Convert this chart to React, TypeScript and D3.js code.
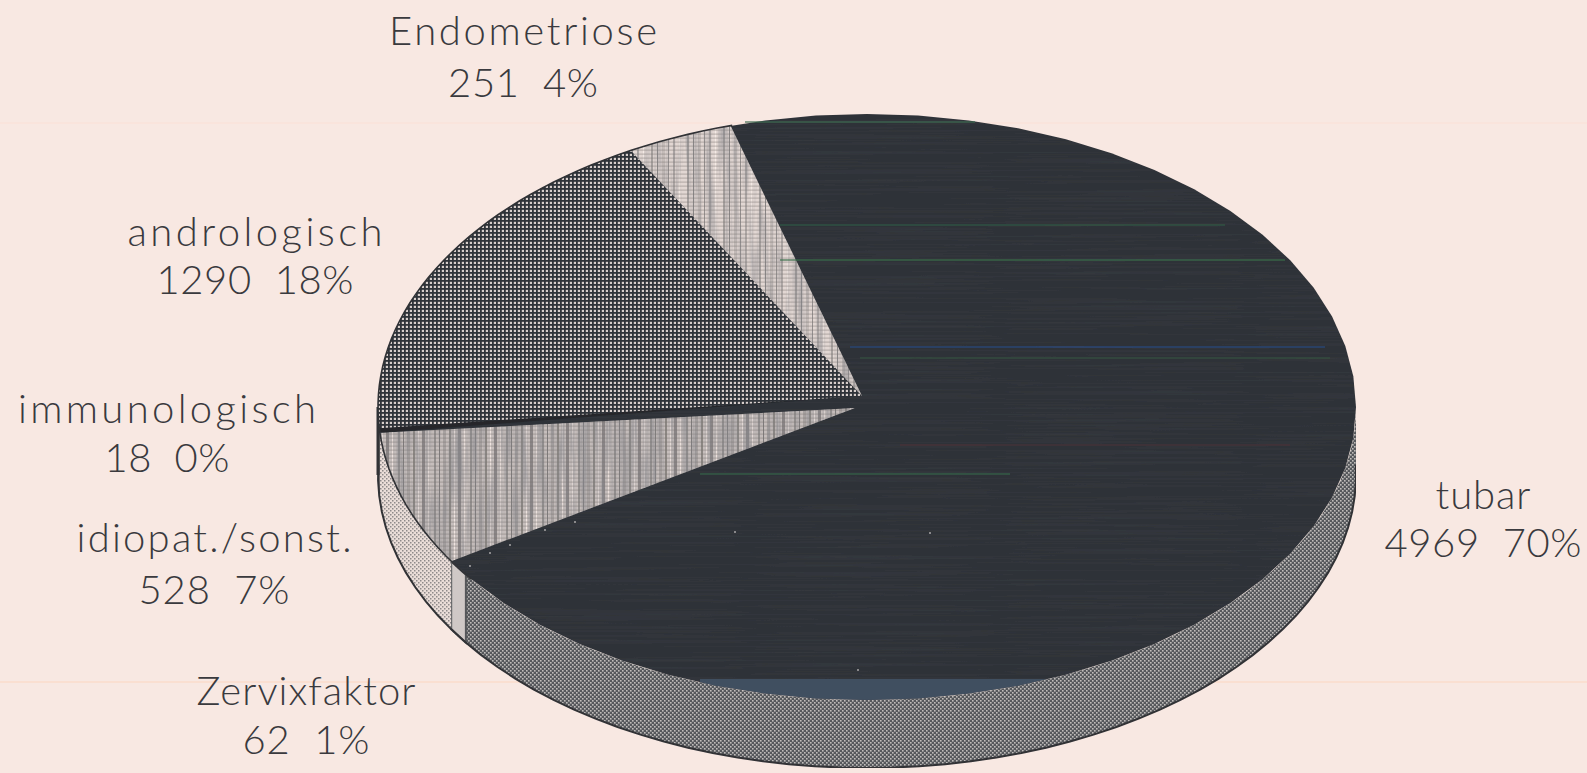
import React from "react";
import * as d3 from "d3";

const categories = ["tubar", "Zervixfaktor", "idiopat./sonst.", "immunologisch", "andrologisch", "Endometriose"];
const counts = [4969, 62, 528, 18, 1290, 251];
const percents = ["70%", "1%", "7%", "0%", "18%", "4%"];

const W = 1587, H = 773;
const cx = 867, cy = 407, rx = 489, ry = 293, depth = 68;
const apex: [number, number] = [862, 396];
const sx = d3.scaleLinear().domain([-1, 1]).range([cx - rx, cx + rx]);
const sy = d3.scaleLinear().domain([-1, 1]).range([cy - ry, cy + ry]);
const toRad = (d: number) => (d * Math.PI) / 180;
const ellipsePt = (a: number, dz = 0): [number, number] => [sx(Math.sin(a)), sy(-Math.cos(a)) + dz];
const line = d3.line();
const sample = (a0: number, a1: number, dz = 0) =>
  d3.range(0, 61).map((i) => ellipsePt(a0 + ((a1 - a0) * i) / 60, dz));

const startDeg = -16.2;
const pie = d3.pie<number>().sort(null).startAngle(toRad(startDeg)).endAngle(toRad(startDeg + 360)).value((d) => d);
const arcs = pie(counts);

const darkFace = "#2e3238";
const faceFill = [darkFace, darkFace, "url(#idio)", "#26282c", "url(#grid)", "url(#endo)"];
const rimFill = ["url(#check)", "#cfc8c6", "url(#dots)", "#3a3c40", "#55565a", "#777"];
const faceApex: [number, number][] = [apex, apex, [855, 408], apex, apex, apex];

// x centre, first baseline, second baseline, first width, second width
const labelPos: Record<string, [number, number, number, number, number]> = {
  tubar: [1483, 509, 557, 95, 197],
  Zervixfaktor: [306, 705, 754, 219, 127],
  "idiopat./sonst.": [214, 552, 604, 275, 151],
  immunologisch: [167, 423, 472, 298, 125],
  andrologisch: [255, 246, 294, 255, 197],
  Endometriose: [523, 45, 97, 268, 150],
};
const scanLines: [number, number, number, string][] = [
  [745, 975, 122, "#3d6a50"],
  [780, 1225, 225, "#2f5a44"],
  [780, 1285, 260, "#3b6f4b"],
  [850, 1325, 347, "#2a4a80"],
  [860, 1330, 358, "#35503f"],
  [700, 1010, 474, "#35664a"],
  [900, 1290, 445, "#4a3238"],
];
const speckles: [number, number][] = [[470, 566], [490, 553], [510, 545], [545, 530], [575, 522], [735, 532], [858, 670], [930, 533]];

function stripeTile(id: string, bg: string, stripes: [number, number, string][], w: number) {
  return (
    <pattern id={id} width={w} height={4} patternUnits="userSpaceOnUse">
      <rect width={w} height={4} fill={bg} />
      {stripes.map(([x, sw, c], i) => <rect key={i} x={x} y={0} width={sw} height={4} fill={c} />)}
      <rect x={0} y={1.5} width={w} height={1.2} fill="#77716f" opacity={0.4} />
    </pattern>
  );
}

export default function App() {
  document.body.style.margin = "0";
  document.body.style.background = "#f8e8e2";
  const font = { fontFamily: "Lato, Roboto, sans-serif", fontWeight: 300, fontSize: 40, fill: "#3a3a3e" } as const;
  const facePath = line(sample(0, Math.PI * 2)) + "Z";
  const slicePath = (i: number) => line([faceApex[i], ...sample(arcs[i].startAngle, arcs[i].endAngle)]) + "Z";
  return (
    <svg width={W} height={H} style={{ position: "absolute", left: 0, top: 0, display: "block" }}>
      <defs>
        <pattern id="grid" width={4} height={4} patternUnits="userSpaceOnUse">
          <rect width={4} height={4} fill="#d6cdca" />
          <rect x={0} y={0} width={1.8} height={4} fill="#2f3238" />
          <rect x={0} y={0} width={4} height={1.8} fill="#2f3238" />
        </pattern>
        <pattern id="check" width={4} height={4} patternUnits="userSpaceOnUse">
          <rect width={4} height={4} fill="#57595c" />
          <rect x={0} y={0} width={1.6} height={1.6} fill="#c0bcba" />
          <rect x={2} y={2} width={1.6} height={1.6} fill="#c0bcba" />
        </pattern>
        <pattern id="dots" width={4} height={4} patternUnits="userSpaceOnUse">
          <rect width={4} height={4} fill="#eaddd8" />
          <rect x={0} y={0} width={1.5} height={1.5} fill="#8e8a8a" />
          <rect x={2} y={2} width={1.5} height={1.5} fill="#8e8a8a" />
        </pattern>
        {stripeTile("idio", "#c6bebc", [[2, 2, "#94908f"], [7, 1, "#7e7a7b"], [11, 3, "#a8a2a1"], [17, 2, "#8c8783"], [22, 1, "#efe4e0"], [26, 3, "#8a8586"], [32, 1, "#ebe0dc"]], 36)}
        {stripeTile("endo", "#e2d7d3", [[3, 2, "#a8a2a0"], [9, 1, "#8a8686"], [14, 3, "#c6bdba"], [20, 1, "#95908f"], [25, 2, "#b0a9a7"], [31, 1, "#f4eae5"]], 36)}
        <filter id="soft" x="0" y="0" width="100%" height="100%">
          <feGaussianBlur stdDeviation="0.5" />
        </filter>
        <filter id="streaks" x="0" y="0" width="100%" height="100%">
          <feTurbulence type="fractalNoise" baseFrequency="0.16 0.012" numOctaves={3} seed={7} />
          <feColorMatrix type="matrix" values="0 0 0 0 0.25  0 0 0 0 0.25  0 0 0 0 0.27  2.4 0 0 0 -0.9" />
        </filter>
        <filter id="hnoise" x="0" y="0" width="100%" height="100%">
          <feTurbulence type="fractalNoise" baseFrequency="0.004 0.5" numOctaves={2} seed={3} />
          <feColorMatrix type="matrix" values="0 0 0 0 0.45  0 0 0 0 0.45  0 0 0 0 0.47  1.2 0 0 0 -0.45" />
        </filter>
        <clipPath id="faceClip"><path d={facePath} /></clipPath>
        <clipPath id="idioClip"><path d={slicePath(2)} /></clipPath>
        <clipPath id="endoClip"><path d={slicePath(5)} /></clipPath>
      </defs>
      <rect width={W} height={H} fill="#f8e8e2" />
      <line x1={0} x2={W} y1={682} y2={682} stroke="#fbdccb" strokeWidth={1.5} />
      <line x1={0} x2={W} y1={123} y2={123} stroke="#fbe0d6" strokeWidth={1} />
      <g filter="url(#soft)">
        {arcs.map((a, i) => {
          const lo = Math.max(a.startAngle, toRad(90));
          const hi = Math.min(a.endAngle, toRad(270));
          if (hi <= lo) return null;
          const pts = [...sample(lo, hi), ...sample(hi, lo, depth)];
          const isSliver = categories[i] === "Zervixfaktor";
          return <path key={categories[i]} d={line(pts) + "Z"} fill={rimFill[i]} stroke={isSliver ? "#55575a" : "none"} strokeWidth={2} />;
        })}
        <path d={line(sample(toRad(88), toRad(272), depth)) ?? ""} fill="none" stroke="#303236" strokeWidth={2} />
        <path d={line(sample(toRad(265), toRad(270)).concat(sample(toRad(270), toRad(270), depth))) ?? ""} fill="none" stroke="#303236" strokeWidth={3} />
        <path d={facePath} fill={darkFace} />
        <g clipPath="url(#faceClip)" opacity={0.09}>
          <rect x={cx - rx} y={cy - ry} width={2 * rx} height={2 * ry} filter="url(#hnoise)" />
        </g>
        {arcs.map((a, i) =>
          i === 0 || i === 1 ? null : <path key={categories[i]} d={slicePath(i)} fill={faceFill[i]} />
        )}
        <g clipPath="url(#idioClip)" opacity={0.6}>
          <rect x={370} y={400} width={500} height={170} filter="url(#streaks)" />
        </g>
        <g clipPath="url(#endoClip)" opacity={0.5}>
          <rect x={630} y={120} width={240} height={285} filter="url(#streaks)" />
        </g>
        <path d={line(sample(toRad(234), toRad(344))) ?? ""} fill="none" stroke="#303236" strokeWidth={1.6} />
        <g clipPath="url(#faceClip)">
          <rect x={700} y={679} width={350} height={24} fill="#414f60" />
        </g>
        <g opacity={0.8}>
          {scanLines.map(([x1, x2, y, c], i) => <line key={i} x1={x1} x2={x2} y1={y} y2={y} stroke={c} strokeWidth={1.5} />)}
        </g>
        {speckles.map(([x, y], i) => <circle key={i} cx={x} cy={y} r={1} fill="#a8a6a6" />)}
      </g>
      {categories.map((c, i) => {
        const [x, y1, y2, w1, w2] = labelPos[c];
        return (
          <g key={c} style={font} textAnchor="middle">
            <text x={x} y={y1} textLength={w1} lengthAdjust="spacing">{c}</text>
            <text x={x} y={y2} textLength={w2} lengthAdjust="spacing" xmlSpace="preserve">{`${counts[i]}  ${percents[i]}`}</text>
          </g>
        );
      })}
    </svg>
  );
}
